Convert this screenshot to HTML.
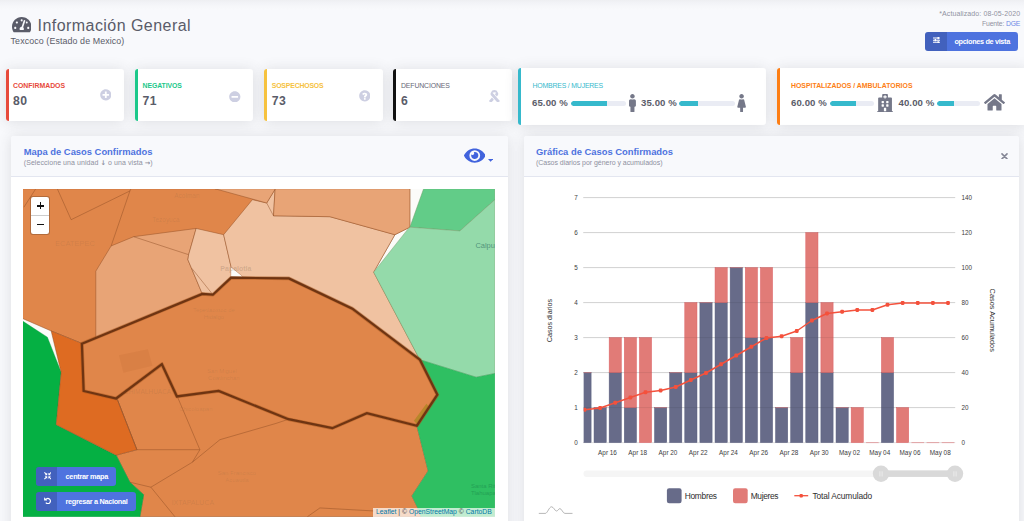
<!DOCTYPE html>
<html lang="es">
<head>
<meta charset="utf-8">
<title>Información General</title>
<style>
*{box-sizing:border-box;margin:0;padding:0}
html,body{width:1024px;height:521px;overflow:hidden}
body{background:#f8f9fc;font-family:"Liberation Sans",sans-serif;color:#5a5c69;position:relative}
.abs{position:absolute;white-space:nowrap;line-height:1}
.topshade{position:absolute;left:0;top:0;width:1024px;height:10px;background:linear-gradient(#eeeff2,#f2f3f7 30%,#f6f7fa 65%,#f8f9fc)}
.card{position:absolute;background:#fff;border-radius:3px;box-shadow:0 1px 14px 0 rgba(58,59,69,.15)}
.stat{border-left:3px solid #000}
.lbl{font-size:6.9px;font-weight:700;letter-spacing:0}
.num{font-size:12.2px;letter-spacing:.35px;font-weight:700;color:#5a5c69}
.pct{font-size:9.6px;margin-top:-.3px;letter-spacing:.1px;font-weight:700;color:#5a5c69}
.bar{position:absolute;height:5px;border-radius:3px;background:#eaecf4;overflow:hidden}
.bar i{display:block;height:100%;background:#36b9cc;border-radius:3px 0 0 3px}
.hdr{position:absolute;left:0;top:0;right:0;height:40.2px;background:#f8f9fc;border-bottom:1px solid #e3e6f0;border-radius:3px 3px 0 0}
.ttl{font-size:9.4px;font-weight:700;color:#4e73df}
.sub{font-size:7px;letter-spacing:.07px;color:#8e90a0}
.ar{font-family:"DejaVu Sans",sans-serif;font-size:6.6px;font-weight:700}
.btn{position:absolute;background:#4e73df;border-radius:3px;color:#fff;overflow:hidden}
.btn .ic{position:absolute;left:0;top:0;bottom:0;background:rgba(0,0,0,.15)}
.btn .tx{position:absolute;font-size:7.3px;font-weight:700;white-space:nowrap;line-height:1}
</style>
</head>
<body>
<div class="topshade"></div>

<!-- HEADER -->
<svg class="abs" style="left:11.5px;top:15.9px" width="19.5" height="17.33" viewBox="0 0 576 512"><path fill="#5a5c69" d="M288 32C128.940 32 0 160.940 0 320c0 52.800 14.250 102.260 39.060 144.800 5.610 9.620 16.300 15.200 27.440 15.200h443c11.140 0 21.830-5.580 27.440-15.200C561.750 422.260 576 372.800 576 320c0-159.060-128.940-288-288-288zm0 64c14.710 0 26.580 10.130 30.320 23.650-1.110 2.260-2.640 4.230-3.450 6.670l-9.220 27.670c-5.130 3.490-10.970 6.010-17.640 6.010-17.670 0-32-14.330-32-32S270.330 96 288 96zM96 384c-17.670 0-32-14.330-32-32s14.330-32 32-32 32 14.330 32 32-14.330 32-32 32zm48-160c-17.670 0-32-14.330-32-32s14.330-32 32-32 32 14.330 32 32-14.330 32-32 32zm246.770-72.410l-61.330 184C343.130 347.330 352 364.540 352 384c0 11.720-3.380 22.550-8.880 32H232.880c-5.500-9.450-8.880-20.280-8.880-32 0-33.940 26.500-61.430 59.900-63.590l61.340-184.010c4.170-12.560 17.730-19.450 30.360-15.170 12.570 4.190 19.350 17.790 15.170 30.360zm14.660 57.200l15.520-46.550c3.470-1.290 7.130-2.230 11.050-2.230 17.670 0 32 14.330 32 32s-14.330 32-32 32c-11.380-.010-20.890-6.280-26.570-15.220zM480 384c-17.670 0-32-14.330-32-32s14.330-32 32-32 32 14.330 32 32-14.330 32-32 32z"/></svg>
<div class="abs" id="t_title" style="left:37.5px;top:17.7px;font-size:16px;letter-spacing:0.45px;color:#5a5c69">Información General</div>
<div class="abs" id="t_sub" style="left:10.6px;top:37.2px;font-size:8.9px;letter-spacing:0.09px;color:#5a5c69">Texcoco (Estado de Mexico)</div>

<div class="abs" id="t_act" style="right:3.8px;top:9.7px;font-size:7px;letter-spacing:.1px;color:#9092a1">*Actualizado: 08-05-2020</div>
<div class="abs" id="t_fue" style="right:3.8px;top:21.3px;font-size:6.8px;letter-spacing:-.14px;color:#9092a1">Fuente: <span style="color:#6a88e6">DGE</span></div>
<div class="btn" style="left:925px;top:32px;width:92.5px;height:18.5px"><div class="ic" style="width:22px"></div>
  <svg class="abs" style="left:7.7px;top:4.8px" width="7.6" height="6.4" viewBox="0 0 16 13.5"><path fill="#fff" d="M0 1.2h16v2.2H0zM0 5.6h16v2.2H0zM0 10h16v2.2H0z"/><path fill="#fff" d="M9.500 0h3v4.600h-3zM3.500 4.400h3V9h-3zM9.500 8.800h3v4.600h-3z"/></svg>
  <div class="tx" id="t_opc" style="letter-spacing:-.34px;left:29.4px;top:6.3px">opciones de vista</div></div>

<!-- STAT CARDS -->
<div class="card stat" style="left:6px;top:69px;width:118px;height:52px;border-left-color:#e74a3b"></div>
<div class="abs lbl" id="t_c1" style="left:13px;top:82.5px;color:#e74a3b">CONFIRMADOS</div>
<div class="abs num" id="t_n1" style="left:13px;top:95.3px">80</div>

<div class="card stat" style="left:135px;top:69px;width:118px;height:52px;border-left-color:#1cc88a"></div>
<div class="abs lbl" id="t_c2" style="letter-spacing:-0.09px;left:142.5px;top:82.5px;color:#1cc88a">NEGATIVOS</div>
<div class="abs num" id="t_n2" style="left:142.5px;top:95.3px">71</div>

<div class="card stat" style="left:264px;top:69px;width:119px;height:52px;border-left-color:#f6c23e"></div>
<div class="abs lbl" id="t_c3" style="letter-spacing:-0.17px;left:271.75px;top:82.5px;color:#f6c23e">SOSPECHOSOS</div>
<div class="abs num" id="t_n3" style="left:271.75px;top:95.3px">73</div>

<div class="card stat" style="left:393px;top:69px;width:119px;height:52px;border-left-color:#111"></div>
<div class="abs lbl" id="t_c4" style="font-weight:400;letter-spacing:-.13px;left:401px;top:82.5px;color:#666876">DEFUNCIONES</div>
<div class="abs num" id="t_n4" style="left:401px;top:95.3px">6</div>

<div class="card stat" style="left:518.3px;top:68.3px;width:247.6px;height:56.8px;border-left-color:#36b9cc"></div>
<div class="abs lbl" id="t_c5" style="font-weight:400;letter-spacing:-.18px;left:532.5px;top:82.5px;color:#36b9cc">HOMBRES / MUJERES</div>
<div class="abs pct" id="t_p1" style="left:532px;top:98.5px">65.00 %</div>
<div class="bar" style="left:570.5px;top:101px;width:55.5px"><i style="width:65%"></i></div>
<div class="abs pct" id="t_p2" style="left:641px;top:98.5px">35.00 %</div>
<div class="bar" style="left:679px;top:101px;width:55.5px"><i style="width:35%"></i></div>

<div class="card stat" style="left:776.5px;top:68.3px;width:250px;height:56.8px;border-left-color:#fd7e14"></div>
<div class="abs lbl" id="t_c6" style="left:791px;top:82.5px;color:#fd7e14">HOSPITALIZADOS / AMBULATORIOS</div>
<div class="abs pct" id="t_p3" style="left:791px;top:98.5px">60.00 %</div>
<div class="bar" style="left:830px;top:101px;width:43.6px"><i style="width:60%"></i></div>
<div class="abs pct" id="t_p4" style="left:898.5px;top:98.5px">40.00 %</div>
<div class="bar" style="left:937px;top:101px;width:43px"><i style="width:40%"></i></div>


<!-- MAP CARD -->
<div class="card" id="mapcard" style="left:11px;top:136.4px;width:497px;height:400px">
  <div class="hdr"></div>
</div>
<div class="abs ttl" id="t_mt" style="left:23.75px;top:147.1px">Mapa de Casos Confirmados</div>
<div class="abs sub" id="t_ms" style="left:23.75px;top:158.9px">(Seleccione una unidad <span class="ar">↓</span> o una vista <span class="ar">→</span>)</div>



<!-- MAP -->
<svg id="map" class="abs" style="left:23.100px;top:189.300px" width="471.900" height="327.500" viewBox="23.100 189.300 471.900 327.500"><rect x="22.5" y="189" width="472.5" height="328" fill="#fbfbf9"/>
<polygon points="22.5,189 410,189 410,227.5 395,235 373.75,272.5 420,360 437.5,395 417,426.25 428.25,471.25 412,496.25 417.5,507.5 421,517 140,517 143.75,495 130,482.5 116.25,455.5 137,450 117.5,400 116.25,398.75 83.75,391.25 82,343.75 51.25,331.25 22.5,318.75" fill="#e0864a" stroke="#8a4a22" stroke-opacity=".75" stroke-width=".6" stroke-linejoin="round"/>
<polygon points="22.5,321.25 47.5,337.5 61.25,372.5 56.25,425 116.25,455.5 130,482.5 143.75,495 140,517 22.5,517" fill="#05b043" stroke="#0a9a40" stroke-width=".4"/>
<polygon points="51.25,331.25 82,343.75 83.75,391.25 116.25,398.75 117.5,400 137,450 116.25,455.5 56.25,425 61.25,372.5 60,367.5" fill="#de6b22" stroke="#8a4a22" stroke-opacity=".75" stroke-width=".6" stroke-linejoin="round"/>
<polygon points="95.9,338.3 95.9,271.5 111.25,246.25 133.75,237 196.25,228.75 188.75,255 188,260 202.4,294.2" fill="#e8a476" stroke="#8a4a22" stroke-opacity=".75" stroke-width=".6" stroke-linejoin="round"/>
<polyline points="133.75,237 188.75,255" fill="none" stroke="#8a4a22" stroke-opacity=".75" stroke-width=".6" stroke-linejoin="round"/>
<polygon points="196.25,228.75 223.75,235 231.25,267.5 231.2,278 213,295 202.4,294.2 188,260 188.75,255" fill="#f0c2a1" stroke="#8a4a22" stroke-opacity=".75" stroke-width=".6" stroke-linejoin="round"/>
<polyline points="191.9,268.6 213,295" fill="none" stroke="#8a4a22" stroke-opacity=".75" stroke-width=".6" stroke-linejoin="round"/>
<polygon points="223.75,235 252.5,200 266.8,203.3 275.2,189.5 273.6,216.1 330,217 395,235 373.75,272.5 420,360 352.5,309 289,278.7 243.75,277.8 231.25,267.5" fill="#f0c2a1" stroke="#8a4a22" stroke-opacity=".75" stroke-width=".6" stroke-linejoin="round"/>
<polygon points="231.25,267.5 243.75,277.8 231.2,277.5" fill="#fbfbf9" stroke="none"/>
<polygon points="215,189 410,189 410,227.5 395,235 330,217 273.6,216.1 275.2,189.5 266.8,203.3" fill="#e8a476" stroke="#8a4a22" stroke-opacity=".75" stroke-width=".6" stroke-linejoin="round"/>
<polygon points="423.75,189 495,189 495,200 460,231.25 410,227.5" fill="#62cc88" stroke="#6a9a60" stroke-opacity=".8" stroke-width=".6"/>
<polygon points="410,227.5 460,231.25 495,200 495,373.75 476.25,377.5 420,360 373.75,272.5 407.5,230" fill="#94daaa" stroke="#7aa070" stroke-opacity=".8" stroke-width=".6"/>
<polygon points="420,360 476.25,377.5 495,373.75 495,517 421,517 417.5,507.5 412,496.25 428.25,471.25 417,426.25 437.5,395" fill="#2fbf62" stroke="#2a9a50" stroke-opacity=".6" stroke-width=".5"/>
<polygon points="414,421 426.5,404 430,408 418.5,426" fill="#b8862a" stroke="none"/>
<polyline points="24,207.5 35.6,189.5" fill="none" stroke="#8a4a22" stroke-opacity=".75" stroke-width=".6" stroke-linejoin="round"/>
<polyline points="57.5,189.25 71.25,220 130,191.25 131,189.25" fill="none" stroke="#8a4a22" stroke-opacity=".75" stroke-width=".6" stroke-linejoin="round"/>
<polyline points="130,191.25 111.25,246.25" fill="none" stroke="#8a4a22" stroke-opacity=".75" stroke-width=".6" stroke-linejoin="round"/>
<polyline points="117.5,400 137,450 200,450 177.5,397" fill="none" stroke="#8a4a22" stroke-opacity=".75" stroke-width=".6" stroke-linejoin="round"/>
<polyline points="200,450 192.5,462.5 151,487.5 130,482.5" fill="none" stroke="#8a4a22" stroke-opacity=".75" stroke-width=".6" stroke-linejoin="round"/>
<polyline points="151,487.5 175,517" fill="none" stroke="#8a4a22" stroke-opacity=".75" stroke-width=".6" stroke-linejoin="round"/>
<polyline points="192.5,462.5 220,440 276,423.75 288.75,419.5" fill="none" stroke="#8a4a22" stroke-opacity=".75" stroke-width=".6" stroke-linejoin="round"/>
<polyline points="307.5,517 320,508.25 373.75,511.25" fill="none" stroke="#8a4a22" stroke-opacity=".75" stroke-width=".6" stroke-linejoin="round"/>
<polygon points="119,355.500 148,349.500 152.500,366 123.500,373" fill="#7a3a10" fill-opacity=".07"/><polyline points="266.8,203.3 273.6,216.1" fill="none" stroke="#8a4a22" stroke-opacity=".75" stroke-width=".6"/><polygon points="82,344 202.4,294.2 213,295 231.2,278 289,278.7 352.5,309 420,360 437.5,395 417,426 367,413.5 332.5,428.5 288.5,419.5 218.75,391.25 177,396.75 162,364.5 116.25,398.75 83.75,391.25" fill="none" stroke="#a2541c" stroke-opacity=".5" stroke-width="3.600" stroke-linejoin="round"/><polygon points="82,344 202.4,294.2 213,295 231.2,278 289,278.7 352.5,309 420,360 437.5,395 417,426 367,413.5 332.5,428.5 288.5,419.5 218.75,391.25 177,396.75 162,364.5 116.25,398.75 83.75,391.25" fill="none" stroke="#6e3412" stroke-width="2.200" stroke-linejoin="miter"/>
<g font-family="Liberation Sans, sans-serif" font-size="6" fill="#5a4a3a" fill-opacity=".13" text-anchor="middle"><text x="75" y="246" font-size="7.5">ECATEPEC</text><text x="187" y="198.500" font-size="6.500">Acolman</text><text x="166" y="222.500" font-size="6.500">Tezoyuca</text><text x="236" y="271.500" font-size="7" font-weight="bold" fill-opacity=".2">Papalotla</text><text x="214" y="312" font-size="6">Tepetlaoxtoc de</text><text x="214" y="319" font-size="6">Hidalgo</text><text x="222" y="373" font-size="6">San Miguel</text><text x="224" y="380" font-size="6">Coatlinchán</text><text x="196" y="411" font-size="6">Chicoloapan</text><text x="150" y="394" font-size="6.5">CHIMALHUACÁN</text><text x="237" y="475" font-size="6">San Francisco</text><text x="237" y="482" font-size="6">Acuautla</text><text x="193" y="505" font-size="7">IXTAPALUCA</text></g>
<text x="475.500" y="248" font-family="Liberation Sans, sans-serif" font-size="7.500" fill="#3a7a6a" fill-opacity=".75">Calpulalpan</text>
<g font-family="Liberation Sans, sans-serif" font-size="6" fill="#1a8a4a" fill-opacity=".6"><text x="471" y="488">Santa Rita</text><text x="471" y="495">Tlahuapan</text></g></svg>
<div class="abs" style="left:29.550px;top:195.550px;width:20.900px;height:39.500px;border-radius:3px;background:rgba(0,0,0,.2)"></div>
<div class="abs" style="left:30.750px;top:196.750px;width:18.500px;height:37.100px;border-radius:2.200px;background:#fff"></div>
<div class="abs" style="left:30.750px;top:214.800px;width:18.500px;height:.6px;background:#ccc"></div>
<div class="abs" style="left:37px;top:205px;width:6.900px;height:1.800px;background:#111"></div>
<div class="abs" style="left:39.550px;top:202.450px;width:1.800px;height:6.900px;background:#111"></div>
<div class="abs" style="left:37.100px;top:223.500px;width:6.800px;height:1.900px;background:#111"></div>
<div class="abs" id="t_attr" style="left:373.250px;top:507.500px;width:121.750px;height:9.500px;background:rgba(255,255,255,.7);font-size:6.800px;color:#444;padding:1.700px 0 0 2.800px"><span style="color:#0078a8">Leaflet</span> | © <span style="color:#0078a8">OpenStreetMap</span> © <span style="color:#0078a8">CartoDB</span></div>

<!-- MAP BUTTONS -->
<div class="btn" style="left:36.100px;top:467.300px;width:79.900px;height:18.400px"><div class="ic" style="width:21.200px"></div>
  <svg class="abs" style="left:7.500px;top:4.900px" width="7.600" height="7.600" viewBox="0 0 16 16"><g fill="#fff"><path d="M0 1.600L1.600 0 5 3.400 6.800 1.600V6.800H1.600L3.400 5z"/><path d="M16 1.600L14.400 0 11 3.400 9.200 1.600V6.800h5.200L12.600 5z"/><path d="M0 14.400L1.600 16 5 12.600 6.800 14.400V9.200H1.600L3.400 11z"/><path d="M16 14.400L14.400 16 11 12.600 9.200 14.400V9.200h5.200L12.600 11z"/></g></svg>
  <div class="tx" id="t_b1" style="letter-spacing:-.29px;left:29.500px;top:6.100px">centrar mapa</div></div>
<div class="btn" style="left:36.100px;top:492.100px;width:99.500px;height:18.700px"><div class="ic" style="width:21.200px"></div>
  <svg class="abs" style="left:7.600px;top:5px" width="7.400" height="7.400" viewBox="0 0 16 16"><path fill="none" stroke="#fff" stroke-width="2.600" d="M3.300 6.200A5.600 5.600 0 1 1 3.900 12.300"/><path fill="#fff" d="M0.300 0.600L0.300 7.400 7.100 7.400z"/></svg>
  <div class="tx" id="t_b2" style="letter-spacing:-.31px;left:29.500px;top:6.300px">regresar a Nacional</div></div>

<!-- CHART CARD -->
<div class="card" id="chartcard" style="left:524.2px;top:136.4px;width:495px;height:400px">
  <div class="hdr"></div>
</div>
<div class="abs ttl" id="t_ct" style="left:536px;top:147.1px">Gráfica de Casos Confirmados</div>
<div class="abs sub" id="t_cs" style="letter-spacing:-.04px;left:536px;top:158.9px">(Casos diarios por género y acumulados)</div>


<!-- CHART -->
<svg id="chart" class="abs" style="left:523px;top:177px" width="496" height="344" viewBox="523 177 496 344" font-family="Liberation Sans, sans-serif">
<line x1="583.25" x2="955.2" y1="442.6" y2="442.6" stroke="#d9d9d9" stroke-width=".8"/>
<line x1="583.25" x2="955.2" y1="407.6" y2="407.6" stroke="#d9d9d9" stroke-width=".8"/>
<line x1="583.25" x2="955.2" y1="372.6" y2="372.6" stroke="#d9d9d9" stroke-width=".8"/>
<line x1="583.25" x2="955.2" y1="337.6" y2="337.6" stroke="#d9d9d9" stroke-width=".8"/>
<line x1="583.25" x2="955.2" y1="302.6" y2="302.6" stroke="#d9d9d9" stroke-width=".8"/>
<line x1="583.25" x2="955.2" y1="267.6" y2="267.6" stroke="#d9d9d9" stroke-width=".8"/>
<line x1="583.25" x2="955.2" y1="232.6" y2="232.6" stroke="#d9d9d9" stroke-width=".8"/>
<line x1="583.25" x2="955.2" y1="197.6" y2="197.6" stroke="#d9d9d9" stroke-width=".8"/>
<clipPath id="cp"><rect x="583.65" y="190" width="371.95" height="260"/></clipPath><g clip-path="url(#cp)">
<rect x="578.90" y="372.60" width="12.2" height="70.00" fill="#676b89" stroke="#5a5e7e" stroke-width=".5"/>
<line x1="578.70" x2="591.30" y1="372.60" y2="372.60" stroke="#e0777a" stroke-width=".6"/>
<rect x="594.03" y="407.60" width="12.2" height="35.00" fill="#676b89" stroke="#5a5e7e" stroke-width=".5"/>
<line x1="593.83" x2="606.43" y1="407.60" y2="407.60" stroke="#e0777a" stroke-width=".6"/>
<rect x="609.15" y="372.60" width="12.2" height="70.00" fill="#676b89" stroke="#5a5e7e" stroke-width=".5"/>
<rect x="609.15" y="337.60" width="12.2" height="35.00" fill="#e17b77" stroke="#de6266" stroke-width=".5"/>
<rect x="624.28" y="407.60" width="12.2" height="35.00" fill="#676b89" stroke="#5a5e7e" stroke-width=".5"/>
<rect x="624.28" y="337.60" width="12.2" height="70.00" fill="#e17b77" stroke="#de6266" stroke-width=".5"/>
<rect x="639.40" y="337.60" width="12.2" height="105.00" fill="#e17b77" stroke="#de6266" stroke-width=".5"/>
<rect x="654.53" y="407.60" width="12.2" height="35.00" fill="#676b89" stroke="#5a5e7e" stroke-width=".5"/>
<line x1="654.33" x2="666.93" y1="407.60" y2="407.60" stroke="#e0777a" stroke-width=".6"/>
<rect x="669.65" y="372.60" width="12.2" height="70.00" fill="#676b89" stroke="#5a5e7e" stroke-width=".5"/>
<line x1="669.45" x2="682.05" y1="372.60" y2="372.60" stroke="#e0777a" stroke-width=".6"/>
<rect x="684.78" y="372.60" width="12.2" height="70.00" fill="#676b89" stroke="#5a5e7e" stroke-width=".5"/>
<rect x="684.78" y="302.60" width="12.2" height="70.00" fill="#e17b77" stroke="#de6266" stroke-width=".5"/>
<rect x="699.90" y="302.60" width="12.2" height="140.00" fill="#676b89" stroke="#5a5e7e" stroke-width=".5"/>
<line x1="699.70" x2="712.30" y1="302.60" y2="302.60" stroke="#e0777a" stroke-width=".6"/>
<rect x="715.03" y="302.60" width="12.2" height="140.00" fill="#676b89" stroke="#5a5e7e" stroke-width=".5"/>
<rect x="715.03" y="267.60" width="12.2" height="35.00" fill="#e17b77" stroke="#de6266" stroke-width=".5"/>
<rect x="730.15" y="267.60" width="12.2" height="175.00" fill="#676b89" stroke="#5a5e7e" stroke-width=".5"/>
<line x1="729.95" x2="742.55" y1="267.60" y2="267.60" stroke="#e0777a" stroke-width=".6"/>
<rect x="745.28" y="337.60" width="12.2" height="105.00" fill="#676b89" stroke="#5a5e7e" stroke-width=".5"/>
<rect x="745.28" y="267.60" width="12.2" height="70.00" fill="#e17b77" stroke="#de6266" stroke-width=".5"/>
<rect x="760.40" y="337.60" width="12.2" height="105.00" fill="#676b89" stroke="#5a5e7e" stroke-width=".5"/>
<rect x="760.40" y="267.60" width="12.2" height="70.00" fill="#e17b77" stroke="#de6266" stroke-width=".5"/>
<rect x="775.53" y="407.60" width="12.2" height="35.00" fill="#676b89" stroke="#5a5e7e" stroke-width=".5"/>
<line x1="775.33" x2="787.93" y1="407.60" y2="407.60" stroke="#e0777a" stroke-width=".6"/>
<rect x="790.65" y="372.60" width="12.2" height="70.00" fill="#676b89" stroke="#5a5e7e" stroke-width=".5"/>
<rect x="790.65" y="337.60" width="12.2" height="35.00" fill="#e17b77" stroke="#de6266" stroke-width=".5"/>
<rect x="805.78" y="302.60" width="12.2" height="140.00" fill="#676b89" stroke="#5a5e7e" stroke-width=".5"/>
<rect x="805.78" y="232.60" width="12.2" height="70.00" fill="#e17b77" stroke="#de6266" stroke-width=".5"/>
<rect x="820.90" y="372.60" width="12.2" height="70.00" fill="#676b89" stroke="#5a5e7e" stroke-width=".5"/>
<rect x="820.90" y="302.60" width="12.2" height="70.00" fill="#e17b77" stroke="#de6266" stroke-width=".5"/>
<rect x="836.03" y="407.60" width="12.2" height="35.00" fill="#676b89" stroke="#5a5e7e" stroke-width=".5"/>
<line x1="835.83" x2="848.43" y1="407.60" y2="407.60" stroke="#e0777a" stroke-width=".6"/>
<rect x="851.15" y="407.60" width="12.2" height="35.00" fill="#e17b77" stroke="#de6266" stroke-width=".5"/>
<line x1="866.08" x2="878.68" y1="442.60" y2="442.60" stroke="#e0777a" stroke-width=".6"/>
<rect x="881.40" y="372.60" width="12.2" height="70.00" fill="#676b89" stroke="#5a5e7e" stroke-width=".5"/>
<rect x="881.40" y="337.60" width="12.2" height="35.00" fill="#e17b77" stroke="#de6266" stroke-width=".5"/>
<rect x="896.53" y="407.60" width="12.2" height="35.00" fill="#e17b77" stroke="#de6266" stroke-width=".5"/>
<line x1="911.45" x2="924.05" y1="442.60" y2="442.60" stroke="#e0777a" stroke-width=".6"/>
<line x1="926.58" x2="939.18" y1="442.60" y2="442.60" stroke="#e0777a" stroke-width=".6"/>
<line x1="941.70" x2="954.30" y1="442.60" y2="442.60" stroke="#e0777a" stroke-width=".6"/>
</g>
<line x1="583.25" x2="955.2" y1="407.6" y2="407.6" stroke="#000" stroke-opacity=".09" stroke-width=".8"/>
<line x1="583.25" x2="955.2" y1="372.6" y2="372.6" stroke="#000" stroke-opacity=".09" stroke-width=".8"/>
<line x1="583.25" x2="955.2" y1="337.6" y2="337.6" stroke="#000" stroke-opacity=".09" stroke-width=".8"/>
<line x1="583.25" x2="955.2" y1="302.6" y2="302.6" stroke="#000" stroke-opacity=".09" stroke-width=".8"/>
<line x1="583.25" x2="955.2" y1="267.6" y2="267.6" stroke="#000" stroke-opacity=".09" stroke-width=".8"/>
<line x1="583.25" x2="955.2" y1="232.6" y2="232.6" stroke="#000" stroke-opacity=".09" stroke-width=".8"/>
<line x1="583.25" x2="955.2" y1="197.6" y2="197.6" stroke="#000" stroke-opacity=".09" stroke-width=".8"/>
<polyline fill="none" stroke="#f4513c" stroke-width="1.500" stroke-linejoin="round" points="585.00,409.75 600.12,408.00 615.25,402.75 630.38,397.50 645.50,392.25 660.62,390.50 675.75,387.00 690.88,380.00 706.00,373.00 721.12,364.25 736.25,355.50 751.38,346.75 766.50,338.00 781.62,336.25 796.75,331.00 811.88,320.50 827.00,313.50 842.12,311.75 857.25,310.00 872.38,310.00 887.50,304.75 902.62,303.00 917.75,303.00 932.88,303.00 948.00,303.00"/>
<rect x="583.65" y="407.85" width="2.600" height="3.800" rx=".9" fill="#f4513c"/>
<rect x="598.23" y="406.10" width="3.800" height="3.800" rx="1.100" fill="#f4513c"/>
<rect x="613.35" y="400.85" width="3.800" height="3.800" rx="1.100" fill="#f4513c"/>
<rect x="628.48" y="395.60" width="3.800" height="3.800" rx="1.100" fill="#f4513c"/>
<rect x="643.60" y="390.35" width="3.800" height="3.800" rx="1.100" fill="#f4513c"/>
<rect x="658.73" y="388.60" width="3.800" height="3.800" rx="1.100" fill="#f4513c"/>
<rect x="673.85" y="385.10" width="3.800" height="3.800" rx="1.100" fill="#f4513c"/>
<rect x="688.98" y="378.10" width="3.800" height="3.800" rx="1.100" fill="#f4513c"/>
<rect x="704.10" y="371.10" width="3.800" height="3.800" rx="1.100" fill="#f4513c"/>
<rect x="719.23" y="362.35" width="3.800" height="3.800" rx="1.100" fill="#f4513c"/>
<rect x="734.35" y="353.60" width="3.800" height="3.800" rx="1.100" fill="#f4513c"/>
<rect x="749.48" y="344.85" width="3.800" height="3.800" rx="1.100" fill="#f4513c"/>
<rect x="764.60" y="336.10" width="3.800" height="3.800" rx="1.100" fill="#f4513c"/>
<rect x="779.73" y="334.35" width="3.800" height="3.800" rx="1.100" fill="#f4513c"/>
<rect x="794.85" y="329.10" width="3.800" height="3.800" rx="1.100" fill="#f4513c"/>
<rect x="809.98" y="318.60" width="3.800" height="3.800" rx="1.100" fill="#f4513c"/>
<rect x="825.10" y="311.60" width="3.800" height="3.800" rx="1.100" fill="#f4513c"/>
<rect x="840.23" y="309.85" width="3.800" height="3.800" rx="1.100" fill="#f4513c"/>
<rect x="855.35" y="308.10" width="3.800" height="3.800" rx="1.100" fill="#f4513c"/>
<rect x="870.48" y="308.10" width="3.800" height="3.800" rx="1.100" fill="#f4513c"/>
<rect x="885.60" y="302.85" width="3.800" height="3.800" rx="1.100" fill="#f4513c"/>
<rect x="900.73" y="301.10" width="3.800" height="3.800" rx="1.100" fill="#f4513c"/>
<rect x="915.85" y="301.10" width="3.800" height="3.800" rx="1.100" fill="#f4513c"/>
<rect x="930.98" y="301.10" width="3.800" height="3.800" rx="1.100" fill="#f4513c"/>
<rect x="946.10" y="301.10" width="3.800" height="3.800" rx="1.100" fill="#f4513c"/>
<g font-size="6.300" fill="#3c3c3c" text-anchor="end">
<text x="577.700" y="445.40">0</text>
<text x="577.700" y="410.40">1</text>
<text x="577.700" y="375.40">2</text>
<text x="577.700" y="340.40">3</text>
<text x="577.700" y="305.40">4</text>
<text x="577.700" y="270.40">5</text>
<text x="577.700" y="235.40">6</text>
<text x="577.700" y="200.40">7</text>
</g><g font-size="6.300" fill="#3c3c3c">
<text x="961.600" y="445.40">0</text>
<text x="961.600" y="410.40">20</text>
<text x="961.600" y="375.40">40</text>
<text x="961.600" y="340.40">60</text>
<text x="961.600" y="305.40">80</text>
<text x="961.600" y="270.40">100</text>
<text x="961.600" y="235.40">120</text>
<text x="961.600" y="200.40">140</text>
</g>
<g font-size="6.400" fill="#3c3c3c" text-anchor="middle">
<text x="607.50" y="455.400">Apr 16</text>
<text x="637.75" y="455.400">Apr 18</text>
<text x="668.00" y="455.400">Apr 20</text>
<text x="698.25" y="455.400">Apr 22</text>
<text x="728.50" y="455.400">Apr 24</text>
<text x="758.75" y="455.400">Apr 26</text>
<text x="789.00" y="455.400">Apr 28</text>
<text x="819.25" y="455.400">Apr 30</text>
<text x="849.50" y="455.400">May 02</text>
<text x="879.75" y="455.400">May 04</text>
<text x="910.00" y="455.400">May 06</text>
<text x="940.25" y="455.400">May 08</text>
</g>
<text id="t_ax1" font-size="7.150" fill="#333" text-anchor="middle" transform="translate(552.400 320.500) rotate(-90)">Casos diarios</text>
<text id="t_ax2" font-size="7.400" fill="#333" text-anchor="middle" transform="translate(989.900 320.200) rotate(90)">Casos Acumulados</text>
<rect x="583.500" y="470.400" width="371.500" height="6.500" rx="3.200" fill="#f5f5f5"/>
<rect x="881" y="470.400" width="74" height="6.500" fill="#d9d9d9"/>
<circle cx="881" cy="473.800" r="8.200" fill="#d9d9d9"/>
<path d="M879.9 471.300v5.200M882.1 471.300v5.200" stroke="#fff" stroke-opacity=".7" stroke-width=".7"/>
<circle cx="955" cy="473.800" r="8.200" fill="#d9d9d9"/>
<path d="M953.9 471.300v5.200M956.1 471.300v5.200" stroke="#fff" stroke-opacity=".7" stroke-width=".7"/>
<rect x="666.900" y="488.200" width="14.700" height="15" rx="2.200" fill="#676b89"/>
<rect x="733" y="488.200" width="14.700" height="15" rx="2.200" fill="#e17b77"/>
<g font-size="8.400" fill="#2e2e2e"><text id="t_l1" letter-spacing="-.27" x="684.700" y="498.900">Hombres</text><text id="t_l2" letter-spacing="-.34" x="750.700" y="498.900">Mujeres</text><text id="t_l3" letter-spacing="-.13" x="812.500" y="498.900">Total Acumulado</text></g>
<line x1="794.300" x2="808.200" y1="495.700" y2="495.700" stroke="#f4513c" stroke-width="1.300"/><rect x="799.500" y="494" width="3.400" height="3.400" rx="1" fill="#f4513c"/>
<path d="M538.800 513.400h6.500c2.200 0 3.800-6.600 6.200-6.600 2.300 0 3.200 4.200 5 4.200 1.500 0 2-2.400 3.400-2.400 1.800 0 3 4.800 5 4.800h7.600" fill="none" stroke="#9a9a9a" stroke-width=".7"/>
</svg>

<!-- ICONS -->
<svg class="abs" style="left:99.9px;top:89.2px" width="11.600" height="11.600" viewBox="0 0 512 512"><path fill="#cdcfe2" d="M256 8C119 8 8 119 8 256s111 248 248 248 248-111 248-248S393 8 256 8zm144 276c0 6.600-5.400 12-12 12h-92v92c0 6.600-5.400 12-12 12h-56c-6.600 0-12-5.400-12-12v-92h-92c-6.600 0-12-5.400-12-12v-56c0-6.600 5.400-12 12-12h92v-92c0-6.600 5.400-12 12-12h56c6.600 0 12 5.400 12 12v92h92c6.600 0 12 5.400 12 12v56z"/></svg>
<svg class="abs" style="left:229.100px;top:90.500px" width="11.600" height="11.600" viewBox="0 0 512 512"><path fill="#cdcfe2" d="M256 8C119 8 8 119 8 256s111 248 248 248 248-111 248-248S393 8 256 8zM124 296c-6.600 0-12-5.400-12-12v-56c0-6.600 5.400-12 12-12h264c6.600 0 12 5.400 12 12v56c0 6.600-5.400 12-12 12H124z"/></svg>
<svg class="abs" style="left:358.800px;top:90.300px" width="11.600" height="11.600" viewBox="0 0 512 512"><path fill="#cdcfe2" fill-rule="evenodd" d="M256 8C119 8 8 119 8 256s111 248 248 248 248-111 248-248S393 8 256 8zM262 120c56 0 102 36 102 88 0 58-62 70-62 104v6c0 6-5 11-12 11h-62c-7 0-12-5-12-11v-10c0-58 60-68 60-96 0-14-12-22-28-22-18 0-30 8-42 24-4 5-12 6-17 2l-38-29c-5-4-6-11-3-16 26-38 60-51 114-51zM256 350c23 0 42 19 42 42s-19 42-42 42-42-19-42-42 19-42 42-42z"/></svg>
<svg class="abs" style="left:489.200px;top:89.800px" width="10.800" height="12.400" viewBox="0 0 448 512"><path fill="#cdcfe2" d="M6.100 444.300c-9.600 10.800-7.500 27.600 4.500 35.700l68.800 27.900c9.900 6.700 23.300 5 31.300-3.800l91.800-101.900-79.200-87.900-117.200 130zm435.800 0s-292-324.600-295.400-330.100c15.400-8.400 40.200-17.900 77.500-17.900s62.100 9.500 77.500 17.900c-3.300 5.600-56 64.600-56 64.600l79.100 87.700 34.200-38c28.700-31.900 33.300-78.600 11.400-115.500l-43.700-73.500c-4.300-7.200-9.900-13.300-16.800-18-40.700-27.600-127.400-29.700-171.400 0-6.900 4.700-12.500 10.800-16.800 18l-43.600 73.200c-1.500 2.500-37.100 62.200 11.500 116L337.500 504c8 8.900 21.400 10.500 31.300 3.800l68.800-27.900c11.900-8 14-24.800 4.300-35.600z"/></svg>
<svg class="abs" style="left:628.900px;top:93.700px" width="6.900" height="18.400" viewBox="0 0 192 512"><path fill="#757889" d="M96 0c35.346 0 64 28.654 64 64s-28.654 64-64 64-64-28.654-64-64S60.654 0 96 0m48 144h-11.360c-22.711 10.443-49.590 10.894-73.280 0H48c-26.510 0-48 21.490-48 48v136c0 13.255 10.745 24 24 24h16v136c0 13.255 10.745 24 24 24h64c13.255 0 24-10.745 24-24V352h16c13.255 0 24-10.745 24-24V192c0-26.510-21.490-48-48-48z"/></svg>
<svg class="abs" style="left:736.900px;top:93.700px" width="9.200" height="18.400" viewBox="0 0 256 512"><path fill="#757889" d="M128 0c35.346 0 64 28.654 64 64s-28.654 64-64 64c-35.346 0-64-28.654-64-64S92.654 0 128 0m119.283 354.179l-48-192A24 24 0 0 0 176 144h-11.360c-22.711 10.443-49.590 10.894-73.280 0H80a24 24 0 0 0-23.283 18.179l-48 192C4.935 369.305 16.383 384 32 384h56v104c0 13.255 10.745 24 24 24h32c13.255 0 24-10.745 24-24V384h56c15.591 0 27.071-14.671 23.283-29.821z"/></svg>
<svg class="abs" style="left:876.900px;top:93.700px" width="16.100" height="18.400" viewBox="0 0 448 512"><path fill="#757889" fill-rule="evenodd" d="M448 492v20H0v-20c0-6.627 5.373-12 12-12h20V120c0-13.255 10.745-24 24-24h88V24c0-13.255 10.745-24 24-24h112c13.255 0 24 10.745 24 24v72h88c13.255 0 24 10.745 24 24v360h20c6.627 0 12 5.373 12 12zM308 192h-40c-6.627 0-12 5.373-12 12v40c0 6.627 5.373 12 12 12h40c6.627 0 12-5.373 12-12v-40c0-6.627-5.373-12-12-12zm-168 64h40c6.627 0 12-5.373 12-12v-40c0-6.627-5.373-12-12-12h-40c-6.627 0-12 5.373-12 12v40c0 6.627 5.373 12 12 12zm104 128h-40c-6.627 0-12 5.373-12 12v84h64v-84c0-6.627-5.373-12-12-12zm64-96h-40c-6.627 0-12 5.373-12 12v40c0 6.627 5.373 12 12 12h40c6.627 0 12-5.373 12-12v-40c0-6.627-5.373-12-12-12zm-116 12c0-6.627-5.373-12-12-12h-40c-6.627 0-12 5.373-12 12v40c0 6.627 5.373 12 12 12h40c6.627 0 12-5.373 12-12v-40zM182 96h26v26a6 6 0 0 0 6 6h20a6 6 0 0 0 6-6V96h26a6 6 0 0 0 6-6V70a6 6 0 0 0-6-6h-26V38a6 6 0 0 0-6-6h-20a6 6 0 0 0-6 6v26h-26a6 6 0 0 0-6 6v20a6 6 0 0 0 6 6z"/></svg>
<svg class="abs" style="left:984px;top:93.400px" width="21" height="18.700" viewBox="0 0 576 512"><path fill="#757889" d="M280.370 148.260L96 300.110V464a16 16 0 0 0 16 16l112.060-.29a16 16 0 0 0 15.920-16V368a16 16 0 0 1 16-16h64a16 16 0 0 1 16 16v95.640a16 16 0 0 0 16 16.050L464 480a16 16 0 0 0 16-16V300L295.670 148.260a12.190 12.190 0 0 0-15.300 0zM571.600 251.470L488 182.560V44.050a12 12 0 0 0-12-12h-56a12 12 0 0 0-12 12v72.610L318.470 43a48 48 0 0 0-61 0L4.340 251.470a12 12 0 0 0-1.600 16.900l25.500 31A12 12 0 0 0 45.150 301l235.220-193.740a12.190 12.190 0 0 1 15.300 0L530.900 301a12 12 0 0 0 16.900-1.600l25.500-31a12 12 0 0 0-1.700-16.930z"/></svg>
<svg class="abs" style="left:463.900px;top:145.900px" width="21.500" height="19.100" viewBox="0 0 576 512"><path fill="#4163dd" d="M572.520 241.400C518.290 135.590 410.930 64 288 64S57.680 135.640 3.480 241.410a32.350 32.350 0 0 0 0 29.190C57.710 376.410 165.070 448 288 448s230.320-71.640 284.520-177.410a32.350 32.350 0 0 0 0-29.190zM288 400a144 144 0 1 1 144-144 143.930 143.930 0 0 1-144 144zm0-240a95.310 95.310 0 0 0-25.310 3.790 47.850 47.850 0 0 1-66.900 66.900A95.780 95.780 0 1 0 288 160z"/></svg>
<svg class="abs" style="left:487.700px;top:158.800px" width="5.200" height="2.900" viewBox="0 0 10 5.500"><path fill="#4163dd" d="M0 0h10L5 5.500z"/></svg>
<svg class="abs" style="left:1000.600px;top:152.600px" width="7" height="6.800" viewBox="0 0 10 10"><path stroke="#858796" stroke-width="2.300" stroke-linecap="round" d="M1.300 1.300l7.400 7.400M8.700 1.300l-7.400 7.400"/></svg>

</body>
</html>
